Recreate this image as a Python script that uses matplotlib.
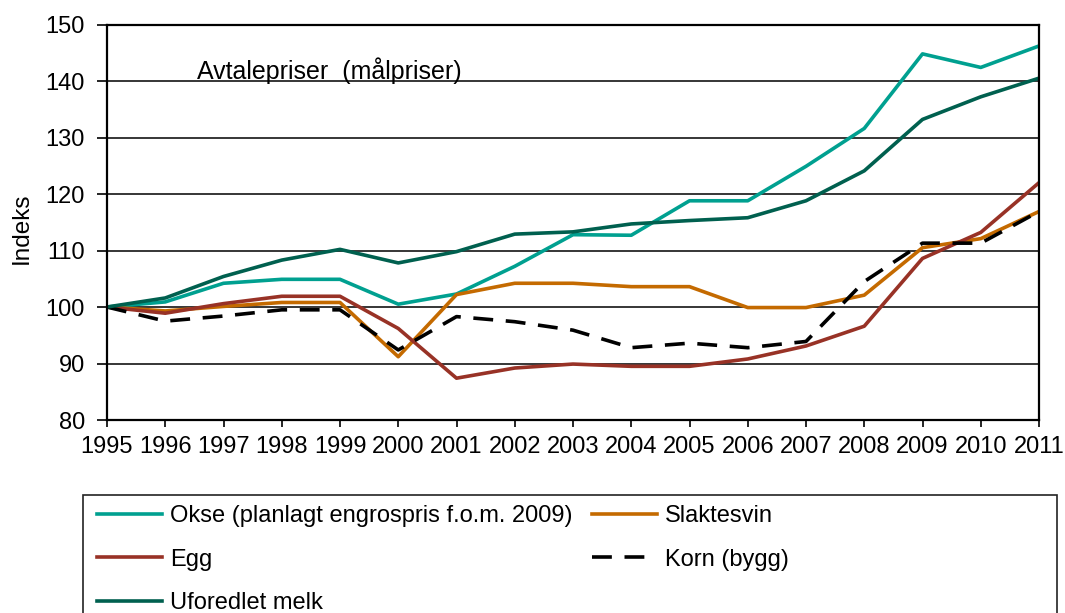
import matplotlib
matplotlib.use("Agg")
import matplotlib.pyplot as plt
from matplotlib.patches import Rectangle

plt.rcParams['font.family'] = ['Liberation Sans', 'DejaVu Sans']

years = list(range(1995, 2012))
okse = [100, 100.9, 104.2, 104.9, 104.9, 100.5, 102.3, 107.2, 112.8, 112.7,
        118.8, 118.8, 124.9, 131.6, 144.8, 142.4, 146.2]
slaktesvin = [100, 99.3, 100.1, 100.8, 100.8, 91.2, 102.2, 104.2, 104.2, 103.6,
              103.6, 99.9, 99.9, 102.1, 110.5, 112.1, 116.9]
egg = [100, 98.9, 100.6, 101.9, 101.9, 96.2, 87.4, 89.2, 89.9, 89.5,
       89.5, 90.8, 93.1, 96.6, 108.6, 113.2, 122.0]
korn = [100, 97.5, 98.4, 99.5, 99.5, 92.4, 98.3, 97.4, 95.9, 92.8,
        93.6, 92.8, 93.9, 104.5, 111.3, 111.3, 116.9]
melk = [100, 101.6, 105.4, 108.3, 110.2, 107.8, 109.8, 112.9, 113.3, 114.7,
        115.3, 115.8, 118.8, 124.1, 133.2, 137.2, 140.5]

labels = ["Okse (planlagt engrospris f.o.m. 2009)", "Slaktesvin", "Egg",
          "Korn (bygg)", "Uforedlet melk"]
yticks = [80, 90, 100, 110, 120, 130, 140, 150]

W, H = 1065, 613
fig = plt.figure(figsize=(W / 100, H / 100), dpi=100)
ax = fig.add_axes([107 / W, 1 - 420 / H, (1039 - 107) / W, (420 - 24.5) / H])

c_okse = "#00A090"
c_svin = "#C46A00"
c_egg = "#983226"
c_korn = "#000000"
c_melk = "#00604F"
lw = 2.6

l_okse, = ax.plot(years, okse, color=c_okse, lw=lw, label=labels[0])
l_svin, = ax.plot(years, slaktesvin, color=c_svin, lw=lw, label=labels[1])
l_egg, = ax.plot(years, egg, color=c_egg, lw=lw, label=labels[2])
l_korn, = ax.plot(years, korn, color=c_korn, lw=lw, dashes=(5.5, 3.5), label=labels[3])
l_melk, = ax.plot(years, melk, color=c_melk, lw=lw, label=labels[4])

ax.set_xlim(1995, 2011)
ax.set_ylim(80, 150)
ax.set_yticks(yticks)
ax.set_xticks(years)
ax.grid(axis='y', color='black', lw=1.1)
ax.set_axisbelow(True)
for s in ax.spines.values():
    s.set_color('black')
    s.set_linewidth(1.6)
ax.tick_params(axis='y', length=7, width=1.2, pad=9, labelsize=17)
ax.tick_params(axis='x', length=5, width=1.2, pad=6.5, labelsize=17)

ax.text(1996.55, 140.3, "Avtalepriser  (målpriser)", fontsize=18, ha='left', va='baseline')

fig.text(22 / W, 1 - 228 / H, "Indeks", rotation=90, ha='center', va='center', fontsize=17.5)

# legend frame
fig.patches.append(Rectangle((83 / W, -0.02), (1057 - 83) / W, 0.02 + 1 - 495 / H,
                             transform=fig.transFigure, fill=False,
                             edgecolor='#222222', lw=1.2))

leg = fig.legend(handles=[l_okse, l_egg, l_melk, l_svin, l_korn], ncol=2,
                 loc='upper left', bbox_to_anchor=(97 / W, 1 - 505 / H),
                 frameon=False, fontsize=17, borderpad=0, borderaxespad=0,
                 handlelength=2.75, handletextpad=0.35, labelspacing=0.92,
                 columnspacing=0.8)

fig.savefig("out.png", dpi=100)
